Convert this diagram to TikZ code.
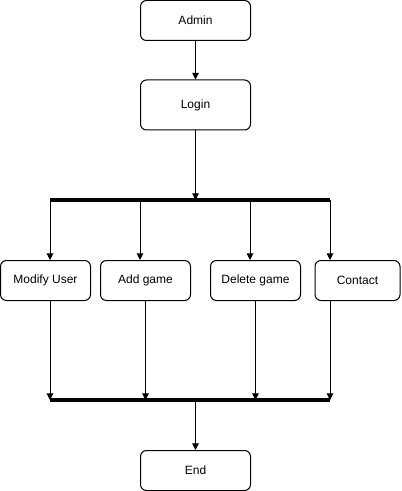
\documentclass[tikz,border=0pt]{standalone}
\usepackage{fontspec}
\setmainfont{Liberation Sans}
\usetikzlibrary{arrows.meta}
\begin{document}
\begin{tikzpicture}[x=0.75pt, y=-0.75pt,
    box/.style = {draw, line width=0.75pt, rounded corners=4.5pt, inner sep=0pt,
                  font=\fontsize{9}{11}\selectfont},
    arr/.style = {draw, line width=0.75pt, -{Triangle[length=5pt, width=5pt]}},
    bar/.style = {line width=2.4pt}]
                \useasboundingbox (0,0) rectangle (401,491);
                % nodes
                \node[box, minimum width=82.5pt, minimum height=30pt] (admin) at (195.5,20.5) {Admin};
                \node[box, minimum width=82.5pt, minimum height=37.5pt] (login) at (195.5,105) {Login};
                \node[box, minimum width=67.5pt, minimum height=30pt] (modify) at (45.5,280.5) {Modify User};
                \node[box, minimum width=67.5pt, minimum height=30pt] (addgame) at (145.5,280.5) {Add game};
                \node[box, minimum width=67.5pt, minimum height=30pt] (delgame) at (255.5,280.5) {Delete game};
                \node[box, minimum width=63.75pt, minimum height=30pt] (contact) at (357.5,280.5) {Contact};
                \node[box, minimum width=82.5pt, minimum height=30pt] (end) at (195.5,470.5) {End};

                % bars
                \coordinate (forkl) at (50,200);
                \coordinate (forka) at (140,200);
                \coordinate (forkb) at (250,200);
                \coordinate (forkr) at (330,200);
                \coordinate (joinl) at (50,400);
                \coordinate (joinr) at (330,400);
                \draw[bar] (forkl) -- (forkr);
                \draw[bar] (joinl) -- (joinr);

                % connectors
                \draw[arr] (admin) -- (login);
                \draw[arr] (login) -- (login |- forkl);
                \draw[arr] (forkl) -- (forkl |- modify.north);
                \draw[arr] (forka) -- (forka |- addgame.north);
                \draw[arr] (forkb) -- (forkb |- delgame.north);
                \draw[arr] (forkr) -- (forkr |- contact.north);
                \draw[arr] (modify.south -| joinl) -- (joinl);
                \draw[arr] (addgame) -- (addgame |- joinl);
                \draw[arr] (delgame) -- (delgame |- joinl);
                \draw[arr] (contact.south -| joinr) -- (joinr);
                \draw[arr] (end |- joinl) -- (end);
            \end{tikzpicture}
\end{document}
